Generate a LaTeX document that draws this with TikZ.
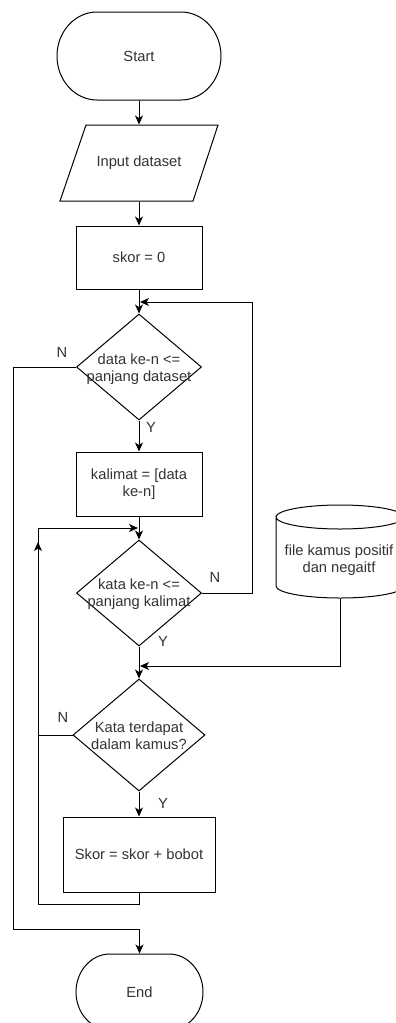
\documentclass[tikz,border=0pt]{standalone}
\usepackage{fontspec}
\setmainfont{Liberation Sans}
\usetikzlibrary{arrows.meta,shapes.geometric}
\definecolor{txtc}{HTML}{333333}
\begin{document}
\begin{tikzpicture}[x=1pt,y=-1pt,
  line width=1pt,
  txt/.style={font=\fontsize{14.7}{17.5}\selectfont, text=txtc, align=center, inner sep=0pt},
  box/.style={draw, rectangle, txt, minimum width=126, minimum height=63},
  dia/.style={draw, diamond, inner sep=0pt, minimum width=125, minimum height=106},
  ghost/.style={rectangle, inner sep=0pt, txt},
  lbl/.style={txt},
  arr/.style={-{Stealth[length=9pt,width=8pt,inset=2.5pt]}}
]
\useasboundingbox (0,0) rectangle (396,1023);
\fill[white] (0,0) rectangle (396,1023);

% Start
\node[ghost, minimum width=164, minimum height=88] (start) at (139,56) {Start};
\draw (97,12) -- (181,12) arc[start angle=-90, end angle=90, x radius=40, y radius=44]
  -- (97,100) arc[start angle=90, end angle=270, x radius=40, y radius=44] -- cycle;

% Input dataset
\node[ghost, minimum width=132, minimum height=76] (inp) at (139,163) {Input dataset};
\draw (86,125) -- (218,125) -- (193,201) -- (60,201) -- cycle;

% skor = 0
\node[box] (s0) at (139,257.5) {skor = 0};

% decision 1
\node[dia] (d1) at (139,367) {};
\node[txt] at (139,369) {data ke-n <=\\panjang dataset};

% kalimat
\node[box, minimum height=64] (kal) at (139,484) {kalimat = [data\\ke-n]};

% decision 2
\node[dia] (d2) at (139,593) {};
\node[txt] at (139,594) {kata ke-n <=\\panjang kalimat};

% cylinder
\node[ghost, minimum width=128, minimum height=93] (cyl) at (340,551.5) {};
\draw (276,517) arc[start angle=180, end angle=360, x radius=64, y radius=12]
  arc[start angle=0, end angle=180, x radius=64, y radius=12] -- (276,586)
  arc[start angle=180, end angle=0, x radius=64, y radius=12] -- (404,517);
\node[txt] at (339,560) {file kamus positif\\dan negaitf};

% decision 3
\node[dia, minimum width=132, minimum height=112] (d3) at (139,735) {};
\node[txt] at (139,735.5) {Kata terdapat\\dalam kamus?};

% Skor = skor + bobot
\node[box, minimum width=152, minimum height=75] (sk) at (139,854.5) {Skor = skor + bobot};

% End
\node[ghost, minimum width=127, minimum height=76] (end) at (139.5,992) {End};
\draw (110,954) -- (169,954) arc[start angle=-90, end angle=90, x radius=34, y radius=38]
  -- (110,1030) arc[start angle=90, end angle=270, x radius=34, y radius=38] -- cycle;

% helper coordinates
\coordinate (m1) at (140,302);
\coordinate (m2) at (138,528);
\coordinate (m3) at (38,542);
\coordinate (m4) at (140,666);

% connectors
\draw[arr] (start.south) -- (inp.north);
\draw[arr] (inp.south) -- (s0.north);
\draw[arr] (s0.south) -- (d1.north);
\draw[arr] (d1.south) -- (kal.north);
\draw[arr] (d1.west) -- (13,367) -- (13,929) -- (139.5,929) -- (end.north);
\draw[arr] (kal.south) -- (d2.north);
\draw[arr] (d2.east) -- (252,593) -- (252,302) -- (m1);
\draw[arr] (d2.south) -- (d3.north);
\draw[arr] (cyl.south) -- (340,666) -- (m4);
\draw[arr] (d3.west) -- (38,735) -- (38,528) -- (m2);
\draw[arr] (d3.south) -- (sk.north);
\draw[arr] (sk.south) -- (139,904) -- (38,904) -- (m3);

% labels
\node[lbl] at (62,352) {N};
\node[lbl] at (151,427) {Y};
\node[lbl] at (215,577) {N};
\node[lbl] at (163,641) {Y};
\node[lbl] at (63,717) {N};
\node[lbl] at (163,803) {Y};
\end{tikzpicture}
\end{document}
